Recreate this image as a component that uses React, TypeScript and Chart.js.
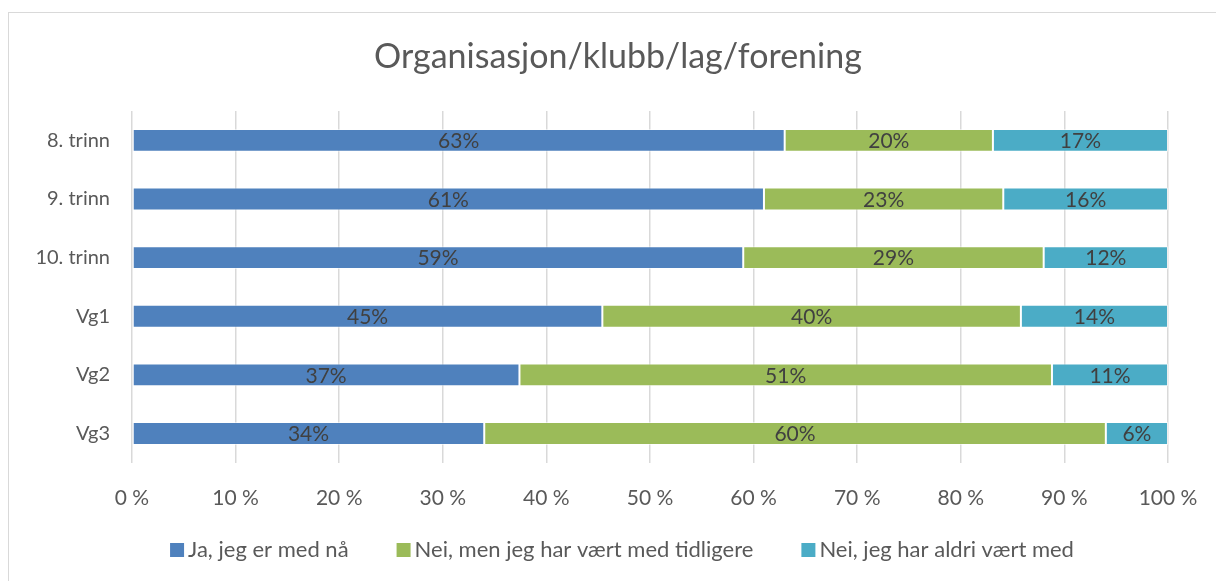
import React, { useEffect, useRef } from "react";
import { Chart, registerables } from "chart.js";

Chart.register(...registerables);

const titleText = "Organisasjon/klubb/lag/forening";
const categories = ["8. trinn", "9. trinn", "10. trinn", "Vg1", "Vg2", "Vg3"];
const seriesNames = [
  "Ja, jeg er med nå",
  "Nei, men jeg har vært med tidligere",
  "Nei, jeg har aldri vært med",
];
const jaValues = [63.0, 61.0, 59.0, 45.4, 37.4, 34.0];
const tidligereValues = [20.1, 23.1, 29.0, 40.4, 51.4, 60.0];
const aldriValues = [16.9, 15.9, 12.0, 14.2, 11.2, 6.0];
const xTickLabels = ["0 %", "10 %", "20 %", "30 %", "40 %", "50 %", "60 %", "70 %", "80 %", "90 %", "100 %"];
const seriesColors = ["#4f81bd", "#9bbb59", "#4bacc6"];

const FONT = "Lato, 'Open Sans', sans-serif";

const segmentLabels = {
  id: "segmentLabels",
  afterDatasetsDraw(chart: any) {
    const ctx = chart.ctx;
    ctx.save();
    ctx.font = `21px ${FONT}`;
    ctx.fillStyle = "#404040";
    ctx.textAlign = "center";
    ctx.textBaseline = "middle";
    chart.data.datasets.forEach((ds: any, i: number) => {
      const meta = chart.getDatasetMeta(i);
      meta.data.forEach((el: any, j: number) => {
        const p = el.getProps(["x", "y", "base"], true);
        ctx.fillText(Math.round(ds.data[j]) + "%", (p.x + p.base) / 2, p.y + 1);
      });
    });
    ctx.restore();
  },
};

// Excel-style title and legend (centred on the chart frame, tight box-to-text gap)
const frameDecor = {
  id: "frameDecor",
  afterDraw(chart: any) {
    const ctx = chart.ctx;
    ctx.save();
    ctx.font = `34px ${FONT}`;
    ctx.fillStyle = "#595959";
    ctx.textAlign = "center";
    ctx.textBaseline = "middle";
    ctx.fillText(titleText, 618, 57);

    ctx.font = `22px ${FONT}`;
    const box = 14;
    const gapText = 4;
    const gapItem = 48;
    const widths = chart.data.datasets.map((ds: any) => ctx.measureText(ds.label).width);
    const total =
      widths.reduce((a: number, w: number) => a + box + gapText + w, 0) + gapItem * (widths.length - 1);
    let x = 622 - total / 2;
    const cy = 550;
    ctx.textAlign = "left";
    chart.data.datasets.forEach((ds: any, i: number) => {
      ctx.fillStyle = ds.backgroundColor;
      ctx.fillRect(x, cy - box / 2, box, box);
      ctx.fillStyle = "#595959";
      ctx.fillText(ds.label, x + box + gapText, cy);
      x += box + gapText + widths[i] + gapItem;
    });
    ctx.restore();
  },
};

export default function App() {
  const ref = useRef<HTMLCanvasElement | null>(null);

  useEffect(() => {
    if (!ref.current) return;
    const valueSets = [jaValues, tidligereValues, aldriValues];
    const chart = new Chart(ref.current, {
      type: "bar",
      data: {
        labels: categories,
        datasets: seriesNames.map((name, i) => ({
          label: name,
          data: valueSets[i],
          backgroundColor: seriesColors[i],
          borderColor: "rgba(255,255,255,0.55)",
          borderWidth: 1,
          borderSkipped: false,
          categoryPercentage: 1,
          barPercentage: 0.39,
        })),
      },
      options: {
        indexAxis: "y",
        animation: false,
        responsive: false,
        maintainAspectRatio: false,
        layout: { padding: { left: 10, right: 48, top: 111, bottom: 47 } },
        scales: {
          x: {
            stacked: true,
            min: 0,
            max: 100,
            border: { display: false },
            grid: { color: "#d9d9d9", lineWidth: 1.5, drawTicks: false },
            ticks: {
              stepSize: 10,
              padding: 23,
              color: "#595959",
              font: { family: FONT, size: 21 },
              callback: (_v: any, idx: number) => xTickLabels[idx],
            },
            afterFit: (s: any) => {
              s.paddingLeft = 0;
              s.paddingRight = 0;
            },
          },
          y: {
            stacked: true,
            border: { display: false },
            grid: { display: false, drawTicks: false },
            ticks: {
              padding: 22,
              color: "#595959",
              font: { family: FONT, size: 20 },
            },
            afterFit: (s: any) => {
              s.width = 122;
            },
          },
        },
        plugins: {
          title: { display: false, text: titleText },
          legend: { display: false },
          tooltip: { enabled: false },
        },
      },
      plugins: [segmentLabels, frameDecor],
    });
    return () => chart.destroy();
  }, []);

  return (
    <div style={{ position: "fixed", left: 0, top: 0, width: 1216, height: 581, overflow: "hidden", background: "#fff" }}>
      <div
        style={{
          position: "absolute",
          left: 8,
          top: 12,
          width: 1230,
          height: 600,
          border: "1px solid #d9d9d9",
          boxSizing: "border-box",
        }}
      />
      <canvas ref={ref} width={1216} height={581} style={{ position: "absolute", left: 0, top: 0 }} />
    </div>
  );
}
